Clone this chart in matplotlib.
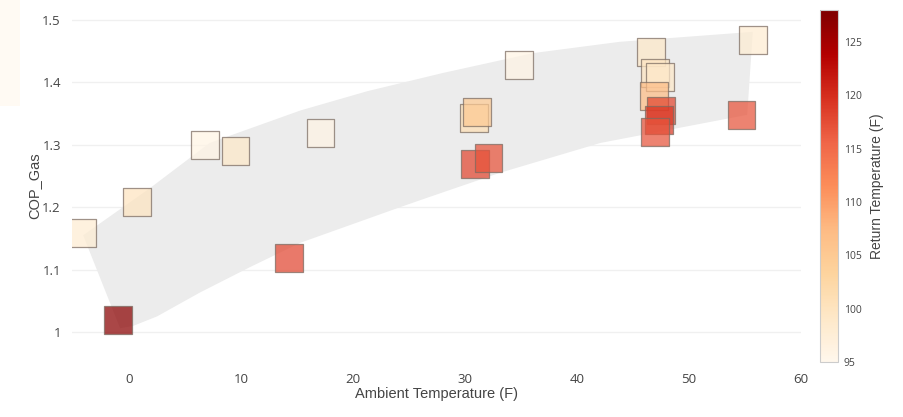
import matplotlib.pyplot as plt
from matplotlib.patches import Polygon, Rectangle
from matplotlib.cm import ScalarMappable
from matplotlib.colors import Normalize

plt.rcParams['font.family'] = ['Open Sans', 'DejaVu Sans']

# measured points: ambient temp, COP, return temp
ambient = [-4.2, -1.0, 0.7, 6.8, 9.5, 14.3, 17.1, 30.8, 31.1, 30.9, 32.1, 34.8,
           46.6, 47.0, 47.4, 46.9, 47.5, 47.3, 47.0, 55.7, 54.7]
cop_gas = [1.159, 1.019, 1.208, 1.300, 1.290, 1.119, 1.319, 1.343, 1.352, 1.269, 1.279, 1.428,
           1.449, 1.415, 1.409, 1.378, 1.355, 1.340, 1.320, 1.468, 1.348]
return_temp = [98, 127, 100, 96, 99, 118, 96, 101, 105, 118, 117, 96,
               99, 100, 99, 107, 118, 119, 117, 98, 117]

# envelope band (upper edge left->right, lower edge right->left)
band_upper_x = [-4.1, 1.9, 7.2, 15.3, 21.3, 28.0, 36.1, 43.8, 55.7]
band_upper_y = [1.155, 1.231, 1.303, 1.355, 1.386, 1.415, 1.447, 1.465, 1.481]
band_lower_x = [55.2, 42.1, 33.1, 26.6, 24.2, 15.3, 10.8, 6.3, 2.5, 0.4, -0.8]
band_lower_y = [1.348, 1.303, 1.255, 1.215, 1.200, 1.143, 1.104, 1.063, 1.025, 1.010, 1.006]

x_ticks = [0, 10, 20, 30, 40, 50, 60]
y_ticks = [1.0, 1.1, 1.2, 1.3, 1.4, 1.5]
y_tick_labels = ["1", "1.1", "1.2", "1.3", "1.4", "1.5"]
cb_ticks = [95, 100, 105, 110, 115, 120, 125]

fig = plt.figure(figsize=(9.04, 4.17), dpi=100)
fig.patches.append(Rectangle((0, 0.745), 0.022, 0.255, transform=fig.transFigure,
                             facecolor='#fffaf3', edgecolor='none', zorder=0))
ax = fig.add_axes([0.0796, 0.132, 0.8064, 0.844])
cax = fig.add_axes([0.907, 0.132, 0.020, 0.844])

band = list(zip(band_upper_x, band_upper_y)) + list(zip(band_lower_x, band_lower_y))
ax.add_patch(Polygon(band, closed=True, facecolor='#ececec', edgecolor='none', zorder=1))

norm = Normalize(vmin=95, vmax=128)
ax.scatter(ambient, cop_gas, c=return_temp, cmap='OrRd', norm=norm,
           marker='s', s=400, alpha=0.72, edgecolors='#7a6a60', linewidths=0.9, zorder=3)

ax.set_xlim(-5.1, 60)
ax.set_ylim(0.952, 1.516)
ax.set_xticks(x_ticks)
ax.set_yticks(y_ticks)
ax.set_yticklabels(y_tick_labels)
ax.tick_params(length=0, labelsize=9.5, colors='#444444', pad=8)
ax.grid(axis='y', color='#f0f0f0', linewidth=1, zorder=0)
ax.set_axisbelow(True)
for s in ax.spines.values():
    s.set_visible(False)
ax.set_xlabel("Ambient Temperature (F)", fontsize=10.5, color='#444444', labelpad=1,
              family=['Liberation Sans', 'DejaVu Sans'])
ax.set_ylabel("COP_Gas", fontsize=10.5, color='#444444', labelpad=1,
              family=['Liberation Sans', 'DejaVu Sans'])

cb = fig.colorbar(ScalarMappable(norm=norm, cmap='OrRd'), cax=cax, ticks=cb_ticks)
cb.outline.set_edgecolor('#cccccc')
cb.outline.set_linewidth(0.8)
cb.ax.tick_params(length=0, labelsize=7.5, colors='#444444', pad=4)
cb.set_label("Return Temperature (F)", fontsize=10, color='#444444', labelpad=6,
             family=['Liberation Sans', 'DejaVu Sans'])

fig.savefig("out.png", dpi=100)
